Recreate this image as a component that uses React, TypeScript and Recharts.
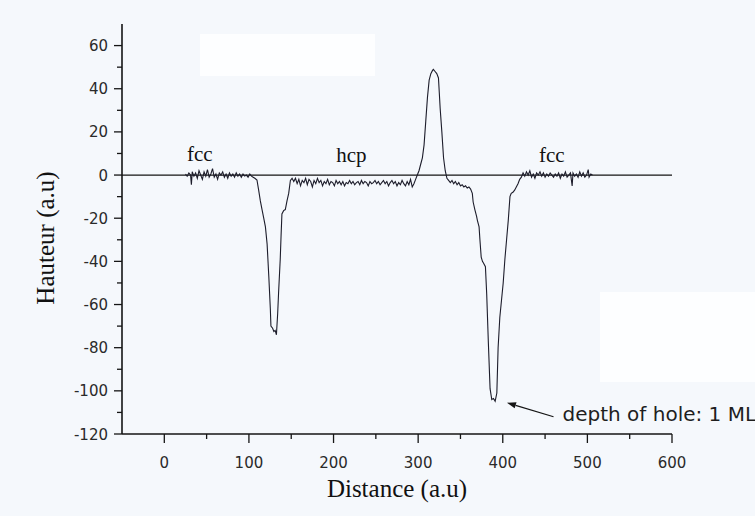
import React from 'react'
import {Line, LineChart, ReferenceDot, ReferenceLine, XAxis, YAxis} from 'recharts'

// profile, [distance, hauteur]
const fccLeft: [number, number][] = [
    [25, 0.5], [27, -0.5], [29, 1], [31, 0], [32, -4.5], [33, 1.5], [35, -0.5], [37, 1], [39, -1.5],
    [41, 2], [43, 0], [45, -2], [47, 1.5], [49, -0.5], [51, 2.5], [53, -1], [55, 0.5], [57, 3],
    [59, -1], [61, 0.5], [63, -2], [65, 1], [67, 0], [69, 1.5], [71, -1], [73, 0.5], [75, -1.5],
    [77, 1], [79, -0.5], [81, 0.5], [83, -1], [85, 1], [87, -0.5], [89, 0.5], [91, -1], [93, 0.5],
    [95, -0.5], [97, 0], [99, -1], [101, 0.5], [103, -0.5], [105, -1],
]
const holeSmall: [number, number][] = [
    [107, -1.5], [109.5, -2.3], [111.5, -7], [113.5, -12], [115.5, -16], [117.5, -20], [119.5, -24],
    [121.5, -32], [123.5, -47], [125.3, -62], [126, -70], [128, -71], [129.5, -72.5], [131, -72],
    [132.5, -74], [134, -64], [135, -55], [137, -39], [138, -28], [139, -18], [141, -16.5],
    [143, -16], [145, -12], [147, -8.5], [149, -2.5], [151, -1.5],
]
const hcp: [number, number][] = [
    [153, -3], [155, -1.5], [157, -4], [159, -2], [161, -5], [163, -2.5], [165, -3.5], [167, -1.5],
    [169, -4.5], [171, -2], [173, -3], [175, -5.5], [177, -2.5], [179, -4], [181, -1.5], [183, -3.5],
    [185, -2.5], [187, -5], [189, -3], [191, -4], [193, -2], [195, -4.5], [197, -3], [199, -3.5],
    [201, -5], [203, -2.5], [205, -4], [207, -3], [209, -4.5], [211, -3], [213, -5], [215, -3.5],
    [217, -4], [219, -2.5], [221, -4], [223, -3], [225, -4.5], [227, -3.5], [229, -3], [231, -4.5],
    [233, -2.5], [235, -4], [237, -3], [239, -3.5], [241, -5], [243, -3], [245, -4], [247, -3.5],
    [249, -2.5], [251, -4], [253, -3], [255, -4.5], [257, -3.5], [259, -2.5], [261, -4], [263, -3],
    [265, -5], [267, -3.5], [269, -2.5], [271, -4], [273, -3], [275, -5], [277, -3.5], [279, -4.5],
    [281, -2.5], [283, -4], [285, -5], [287, -3], [289, -4.5], [291, -2], [293, -5.5], [295, -4],
    [297, -2],
]
const bump: [number, number][] = [
    [299, 0], [301, 2], [303, 5], [305, 8], [307, 14], [309, 25], [311, 36], [313, 44], [315, 47],
    [317, 48.5], [318, 49], [320, 48], [322, 47], [324, 45], [325, 38], [326, 31], [328, 20],
    [330, 8], [332, 2], [334, -1.5],
]
const holeDeep: [number, number][] = [
    [336, -2.5], [338, -3.5], [340, -2.5], [342, -4], [344, -3], [346, -4.5], [348, -3.5], [350, -5],
    [352, -4.5], [354, -5.5], [356, -5], [358, -6], [360, -5.5], [362, -6.5], [364, -8.5],
    [365, -12.5], [367, -16], [369, -19], [370, -21], [372, -24], [373, -30], [374.5, -38],
    [376, -40], [377.5, -41], [379.5, -42.5], [381, -55], [383, -78], [385, -99], [387, -104],
    [389, -103.5], [391, -104.8], [393, -101], [394.5, -80], [396.5, -66], [398.5, -58],
    [400.5, -50], [402.5, -39], [404.5, -30], [406.5, -21], [408.5, -10], [410, -8.5], [412, -8],
    [414, -7], [416, -5.5], [418, -4], [420, -2], [422, -1],
]
const fccRight: [number, number][] = [
    [424, 1], [426, -0.5], [428, 1.5], [430, 0], [432, 2], [434, -1], [436, 0.5], [438, -1.5],
    [440, 1], [442, 0], [444, 1.5], [446, -0.5], [448, 1], [450, -1], [452, 0.5], [454, -0.5],
    [456, 1], [458, 0], [460, -1], [462, 0.5], [464, -0.5], [466, 1], [468, -1.5], [470, 0.5],
    [472, -0.5], [474, 1.5], [476, -1], [478, 0], [480, 1], [482, -5], [483, 1], [485, -0.5],
    [487, 0.5], [489, -1], [491, 1.5], [493, -0.5], [495, 1], [497, -1], [499, 0], [501, 2.5],
    [502, -1], [504, 0.5], [506, 0],
]

const xTicks = [0, 50, 100, 150, 200, 250, 300, 350, 400, 450, 500, 550, 600]
const yTicks = [-120, -110, -100, -90, -80, -70, -60, -50, -40, -30, -20, -10, 0, 10, 20, 30, 40, 50, 60]

// phase labels [text, distance, hauteur]
const phaseLabels: [string, number, number][] = [
    ['fcc', 42, 6.5],
    ['hcp', 221, 6],
    ['fcc', 458, 6],
]
const arrowFrom = {distance: 460, hauteur: -112}
const arrowTo = {distance: 405, hauteur: -105.5}
const arrowText = 'depth of hole: 1 ML'

const data = [...fccLeft, ...holeSmall, ...hcp, ...bump, ...holeDeep, ...fccRight]
    .map(([d, h]) => ({distance: d, hauteur: h}))

const SANS = '"DejaVu Sans", sans-serif'
const SERIF = '"Liberation Serif", "Times New Roman", serif'
const INK = '#151515'

const YTick = (props: any) => {
    const {x, y, payload} = props
    const major = payload.value % 20 === 0
    return (
        <g>
            <line x1={x} x2={x - (major ? 8 : 5)} y1={y} y2={y} stroke={INK} strokeWidth={1.3}/>
            {major && (
                <text x={x - 14} y={y} dy={5.5} textAnchor='end' fontFamily={SANS} fontSize={15} fill='#2a2a2a'>
                    {payload.value}
                </text>
            )}
        </g>
    )
}

const XTick = (props: any) => {
    const {x, y, payload} = props
    const major = payload.value % 100 === 0
    return (
        <g>
            <line x1={x} x2={x} y1={y} y2={y + (major ? 9 : 5)} stroke={INK} strokeWidth={1.3}/>
            {major && (
                <text x={x} y={y + 34} textAnchor='middle' fontFamily={SANS} fontSize={15} fill='#2a2a2a'>
                    {payload.value}
                </text>
            )}
        </g>
    )
}

const Arrow = (props: any) => {
    const {x1, y1, x2, y2} = props
    const a = Math.atan2(y2 - y1, x2 - x1)
    const len = 9
    const w = 3.2
    const bx = x2 - len * Math.cos(a)
    const by = y2 - len * Math.sin(a)
    const p1 = `${bx + w * Math.sin(a)},${by - w * Math.cos(a)}`
    const p2 = `${bx - w * Math.sin(a)},${by + w * Math.cos(a)}`
    return (
        <g>
            <line x1={x1} y1={y1} x2={bx} y2={by} stroke={INK} strokeWidth={1.2}/>
            <polygon points={`${x2},${y2} ${p1} ${p2}`} fill={INK}/>
            <text x={x1 + 9} y={y1 + 4} fontFamily={SANS} fontSize={20} fill='#1e1e1e'>{arrowText}</text>
        </g>
    )
}

const App = () => {
    return (
        <div style={{position: 'absolute', left: 0, top: 0, width: 755, height: 516, background: '#f5f8fc'}}>
            <div style={{position: 'absolute', left: 200, top: 34, width: 175, height: 42, background: '#fdfeff'}}/>
            <div style={{position: 'absolute', left: 600, top: 292, width: 155, height: 90, background: '#fdfeff'}}/>
            <div style={{position: 'absolute', left: 0, top: 0}}>
                <LineChart width={755} height={516} data={data} margin={{top: 24, right: 83, bottom: 0, left: 0}}>
                    <XAxis
                        type='number'
                        dataKey='distance'
                        domain={[-50, 600]}
                        ticks={xTicks}
                        interval={0}
                        allowDataOverflow
                        height={82}
                        tickSize={0}
                        tickMargin={0}
                        tick={<XTick/>}
                        axisLine={{stroke: INK, strokeWidth: 1.6}}
                        label={{
                            content: ({viewBox}: any) => (
                                <text x={viewBox.x + viewBox.width / 2} y={497} textAnchor='middle'
                                      fontFamily={SERIF} fontSize={25} fill='#111'>
                                    Distance (a.u)
                                </text>
                            ),
                        }}
                    />
                    <YAxis
                        type='number'
                        domain={[-120, 70]}
                        ticks={yTicks}
                        interval={0}
                        allowDataOverflow
                        width={122}
                        tickSize={0}
                        tickMargin={0}
                        tick={<YTick/>}
                        axisLine={{stroke: INK, strokeWidth: 1.6}}
                        label={{
                            content: () => (
                                <text x={45} y={238} transform='rotate(-90, 45, 238)' textAnchor='middle'
                                      dominantBaseline='central' fontFamily={SERIF} fontSize={25} fill='#111'>
                                    Hauteur (a.u)
                                </text>
                            ),
                        }}
                    />
                    <ReferenceLine y={0} stroke={INK} strokeWidth={1.3}/>
                    <Line
                        type='linear'
                        dataKey='hauteur'
                        stroke='#1d1d2b'
                        strokeWidth={1.1}
                        dot={false}
                        isAnimationActive={false}
                    />
                    {phaseLabels.map(([text, d, h], i) => (
                        <ReferenceDot
                            key={i}
                            x={d}
                            y={h}
                            r={0}
                            shape={(p: any) => (
                                <text x={p.cx} y={p.cy} textAnchor='middle' fontFamily={SERIF} fontSize={21} fill='#111'>
                                    {text}
                                </text>
                            )}
                        />
                    ))}
                    <ReferenceLine
                        segment={[
                            {x: arrowFrom.distance, y: arrowFrom.hauteur},
                            {x: arrowTo.distance, y: arrowTo.hauteur},
                        ]}
                        shape={<Arrow/>}
                    />
                </LineChart>
            </div>
        </div>
    )
}
export default App
